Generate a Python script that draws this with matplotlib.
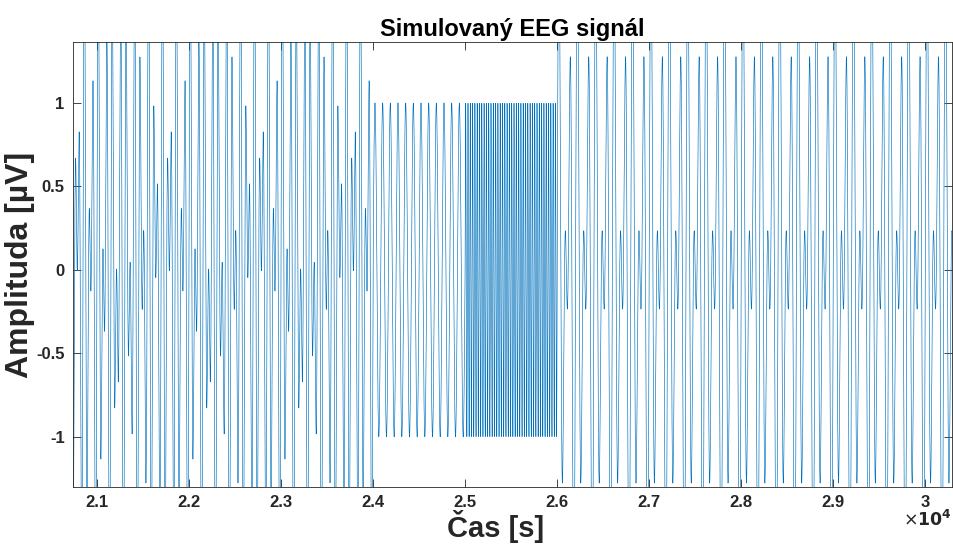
import numpy as np
import matplotlib
matplotlib.use("Agg")
import matplotlib.pyplot as plt

plt.rcParams["font.family"] = ["Liberation Sans", "DejaVu Sans"]

# signal segments (time in samples), each a sum of sines: amplitude, cycles per 1000 samples
seg_start = [20000, 24000, 25000, 26000]
seg_end = [24000, 25000, 26000, 31000]
seg_amps = [[1.0, 1.0], [1.0], [1.0], [1.05, 1.05]]
seg_freqs = [[13, 20], [12], [40], [10, 15]]

x_lim = [20740, 30290]
y_lim = [-1.30, 1.365]
x_ticks = [21000, 22000, 23000, 24000, 25000, 26000, 27000, 28000, 29000, 30000]
x_ticklabels = ["2.1", "2.2", "2.3", "2.4", "2.5", "2.6", "2.7", "2.8", "2.9", "3"]
y_ticks = [-1, -0.5, 0, 0.5, 1]
y_ticklabels = ["-1", "-0.5", "0", "0.5", "1"]

t_parts, y_parts = [], []
for s, e, amps, freqs in zip(seg_start, seg_end, seg_amps, seg_freqs):
    ts = np.arange(s, e)
    ys = np.zeros_like(ts, dtype=float)
    for a, f in zip(amps, freqs):
        ys += a * np.sin(2 * np.pi * f * ts / 1000)
    t_parts.append(ts); y_parts.append(ys)
t = np.concatenate(t_parts)
y = np.concatenate(y_parts)

INK = "#262626"
fig = plt.figure(figsize=(9.54, 5.46), dpi=100)
ax = fig.add_axes([73 / 954, 1 - 487 / 546, 879 / 954, 445 / 546])
ax.plot(t, y, color="#0072BD", lw=0.45)
ax.set_xlim(x_lim); ax.set_ylim(y_lim)
ax.set_xticks(x_ticks); ax.set_xticklabels(x_ticklabels)
ax.set_yticks(y_ticks); ax.set_yticklabels(y_ticklabels)
ax.tick_params(direction="in", top=True, right=True, length=5.5, width=0.6,
               colors=INK, labelsize=12, pad=6)
for lab in ax.get_xticklabels() + ax.get_yticklabels():
    lab.set_fontweight("bold")
for s in ax.spines.values():
    s.set_color(INK); s.set_linewidth(0.6)

ax.set_title("Simulovaný EEG signál", fontsize=17, fontweight="bold", color="black", pad=4)
fig.text(496 / 954, 1 - 537 / 546, "Čas [s]", fontsize=21, fontweight="bold", color=INK,
         ha="center", va="baseline")
ax.set_ylabel("Amplituda [µV]", fontsize=23, fontweight="bold", color=INK, labelpad=1)
ax.text(1.0, -0.05, r"$\times\mathbf{10^{4}}$", transform=ax.transAxes, ha="right",
        va="top", fontsize=12.5, color=INK, fontweight="bold")

fig.savefig("out.png", dpi=100, facecolor="white")
